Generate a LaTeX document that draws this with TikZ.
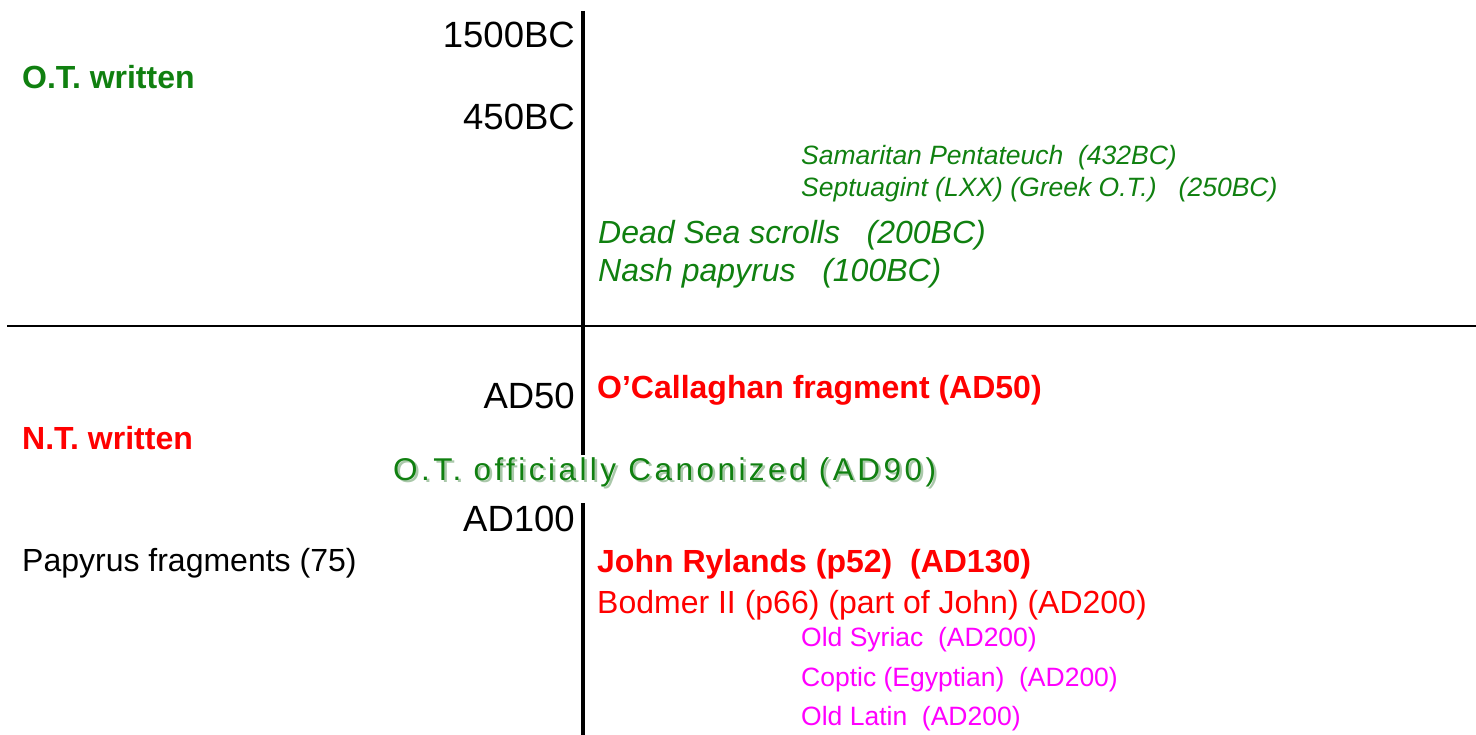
\documentclass[tikz,border=0pt]{standalone}
\usepackage{fontspec}
\setmainfont{Liberation Sans}
\newfontfamily\spacedfont[LetterSpace=11]{Liberation Sans}
\definecolor{otgreen}{RGB}{16,128,16}
\definecolor{ntred}{RGB}{255,0,0}
\definecolor{vermag}{RGB}{255,0,255}
\definecolor{shadowgreen}{RGB}{170,200,170}
\tikzset{
  lbl/.style={inner sep=0pt, anchor=west, font=\fontsize{32}{38}\selectfont},
  yearlbl/.style={inner sep=0pt, anchor=east, font=\fontsize{36.5}{42}\selectfont},
  otsmall/.style={lbl, text=otgreen, font=\fontsize{26.5}{30}\selectfont\itshape},
  otbig/.style={lbl, text=otgreen, font=\fontsize{32}{38}\selectfont\itshape},
  ntbold/.style={lbl, text=ntred, font=\fontsize{32}{38}\selectfont\bfseries},
  ntplain/.style={lbl, text=ntred},
  version/.style={lbl, text=vermag, font=\fontsize{26.5}{30}\selectfont},
  axis/.style={line width=3.5pt, black},
  divider/.style={line width=2pt, black}
}
\begin{document}
\begin{tikzpicture}[x=1pt,y=-1pt]
\useasboundingbox (0,0) rectangle (1476,735);
% axes
\coordinate (vtop) at (583,11);
\coordinate (vmid) at (583,455);
\coordinate (vlow) at (583,503);
\coordinate (vbot) at (583,735);
\coordinate (hl) at (7,326);
\coordinate (hr) at (1476,326);
\draw[axis] (vtop) -- (vmid);
\draw[axis] (vlow) -- (vbot);
\draw[divider] (hl) -- (hr);
% year labels
\node[yearlbl] (y1500) at (575,35) {1500BC};
\node[yearlbl] (y450) at (575,117) {450BC};
\node[yearlbl] (y50) at (575,396) {AD50};
\node[yearlbl] (y100) at (575,519) {AD100};
% left labels
\node[lbl, text=otgreen, font=\fontsize{32}{38}\selectfont\bfseries] (otw) at (22,77) {O.T. written};
\node[lbl, text=ntred, font=\fontsize{32}{38}\selectfont\bfseries] (ntw) at (22,438) {N.T. written};
\node[lbl] (pap) at (22,563) {Papyrus fragments (75)};
% OT manuscripts
\node[otsmall] (sam) at (801,158) {Samaritan Pentateuch\ \ (432BC)};
\node[otsmall] (sep) at (801,190) {Septuagint (LXX) (Greek O.T.)\ \ \ (250BC)};
\node[otbig] (dss) at (598,235) {Dead Sea scrolls\ \ \ (200BC)};
\node[otbig] (nash) at (598,273) {Nash papyrus\ \ \ (100BC)};
% canon
\node[lbl, text=shadowgreen, font=\fontsize{31.5}{36}\selectfont\spacedfont] (canonsh) at (395.5,474.5) {O.T. officially Canonized (AD90)};
\node[lbl, text=otgreen, font=\fontsize{31.5}{36}\selectfont\spacedfont] (canon) at (393,472) {O.T. officially Canonized (AD90)};
% NT manuscripts
\node[ntbold] (ocal) at (597,390) {O’Callaghan fragment (AD50)};
\node[ntbold] (john) at (597,564) {John Rylands (p52)\ \ (AD130)};
\node[ntplain] (bod) at (597,605) {Bodmer II (p66) (part of John) (AD200)};
% versions
\node[version] (syr) at (801,640) {Old Syriac\ \ (AD200)};
\node[version] (copt) at (801,680) {Coptic (Egyptian)\ \ (AD200)};
\node[version] (lat) at (801,719) {Old Latin\ \ (AD200)};
\end{tikzpicture}
\end{document}
